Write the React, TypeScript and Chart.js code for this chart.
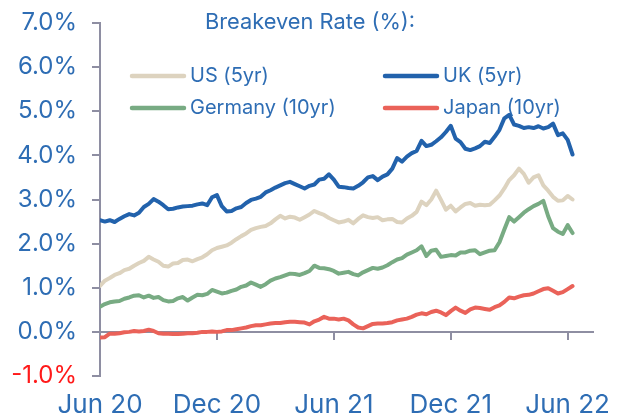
import React, { useEffect, useRef } from 'react';
import { Chart, registerables } from 'chart.js';

Chart.register(...registerables);

// sampling step of the series, in months from Jun 2020
const STEP_MONTHS = 0.25;
const X_MAX_MONTHS = 25.3;

const xTickMonths = [0, 6, 12, 18, 24];
const xTickLabels = ['Jun 20', 'Dec 20', 'Jun 21', 'Dec 21', 'Jun 22'];

const titleText = 'Breakeven Rate (%):';
const seriesNames = ['US (5yr)', 'UK (5yr)', 'Germany (10yr)', 'Japan (10yr)'];

const usValues = [
  1.04, 1.16, 1.22, 1.29, 1.33, 1.40, 1.43, 1.50, 1.56, 1.61,
  1.70, 1.64, 1.59, 1.50, 1.48, 1.55, 1.56, 1.63, 1.64, 1.60,
  1.65, 1.69, 1.76, 1.85, 1.90, 1.93, 1.96, 2.02, 2.10, 2.17,
  2.23, 2.31, 2.35, 2.38, 2.40, 2.46, 2.55, 2.63, 2.57, 2.61,
  2.59, 2.54, 2.60, 2.66, 2.74, 2.69, 2.65, 2.58, 2.53, 2.48,
  2.50, 2.54, 2.46, 2.56, 2.64, 2.60, 2.58, 2.60, 2.53, 2.55,
  2.56, 2.49, 2.48, 2.57, 2.63, 2.72, 2.95, 2.87, 3.00, 3.20,
  2.99, 2.77, 2.86, 2.73, 2.82, 2.90, 2.92, 2.86, 2.88, 2.87,
  2.88, 2.98, 3.09, 3.25, 3.44, 3.55, 3.70, 3.58, 3.38, 3.50,
  3.55, 3.32, 3.20, 3.06, 2.97, 2.98, 3.08, 3.00,
];

const ukValues = [
  2.53, 2.50, 2.53, 2.49, 2.56, 2.62, 2.67, 2.64, 2.70, 2.83,
  2.90, 3.01, 2.95, 2.87, 2.78, 2.79, 2.82, 2.84, 2.85, 2.86,
  2.89, 2.91, 2.87, 3.05, 3.10, 2.85, 2.73, 2.74, 2.80, 2.83,
  2.92, 2.99, 3.02, 3.06, 3.16, 3.21, 3.27, 3.32, 3.37, 3.40,
  3.35, 3.30, 3.25, 3.31, 3.34, 3.45, 3.47, 3.57, 3.45, 3.29,
  3.28, 3.26, 3.25, 3.31, 3.39, 3.50, 3.53, 3.44, 3.52, 3.57,
  3.70, 3.94, 3.86, 3.97, 4.05, 4.10, 4.33, 4.21, 4.24, 4.32,
  4.41, 4.53, 4.67, 4.38, 4.30, 4.15, 4.12, 4.16, 4.21, 4.31,
  4.28, 4.42, 4.58, 4.84, 4.92, 4.70, 4.67, 4.62, 4.64, 4.62,
  4.66, 4.61, 4.64, 4.72, 4.46, 4.50, 4.35, 4.02,
];

const germanyValues = [
  0.57, 0.63, 0.67, 0.69, 0.70, 0.75, 0.78, 0.82, 0.83, 0.78,
  0.82, 0.77, 0.79, 0.72, 0.69, 0.70, 0.76, 0.79, 0.71, 0.78,
  0.84, 0.83, 0.86, 0.95, 0.91, 0.87, 0.89, 0.93, 0.96, 1.02,
  1.05, 1.12, 1.07, 1.02, 1.08, 1.16, 1.21, 1.24, 1.28, 1.32,
  1.31, 1.29, 1.33, 1.38, 1.50, 1.45, 1.44, 1.42, 1.38, 1.32,
  1.34, 1.36, 1.31, 1.28, 1.35, 1.40, 1.45, 1.43, 1.46, 1.51,
  1.58, 1.64, 1.67, 1.75, 1.80, 1.85, 1.94, 1.72, 1.84, 1.86,
  1.70, 1.72, 1.74, 1.73, 1.80, 1.80, 1.84, 1.85, 1.76, 1.80,
  1.84, 1.85, 2.03, 2.32, 2.60, 2.50, 2.60, 2.70, 2.78, 2.85,
  2.90, 2.97, 2.62, 2.35, 2.27, 2.22, 2.42, 2.24,
];

const japanValues = [
  -0.13, -0.12, -0.04, -0.04, -0.03, -0.01, 0.00, 0.02, 0.01, 0.02,
  0.05, 0.02, -0.03, -0.04, -0.04, -0.05, -0.05, -0.04, -0.03, -0.03,
  -0.02, 0.00, 0.00, 0.01, 0.00, 0.01, 0.04, 0.04, 0.06, 0.08,
  0.10, 0.13, 0.15, 0.15, 0.17, 0.19, 0.20, 0.20, 0.22, 0.23,
  0.23, 0.22, 0.21, 0.17, 0.24, 0.28, 0.34, 0.30, 0.30, 0.28,
  0.30, 0.26, 0.17, 0.10, 0.08, 0.13, 0.18, 0.19, 0.19, 0.20,
  0.22, 0.26, 0.28, 0.30, 0.34, 0.39, 0.42, 0.40, 0.45, 0.48,
  0.44, 0.38, 0.47, 0.55, 0.48, 0.43, 0.51, 0.55, 0.54, 0.52,
  0.50, 0.56, 0.60, 0.68, 0.78, 0.76, 0.80, 0.83, 0.84, 0.87,
  0.92, 0.97, 0.99, 0.93, 0.87, 0.90, 0.97, 1.04,
];

const FONT = 'Inter, "Open Sans", sans-serif';
const LABEL_BLUE = '#2E6DB4';
const NEG_RED = '#FF1A1A';
const AXIS_GREY = '#8E8EA2';
const US_COLOR = '#DDD3BF';
const UK_COLOR = '#2262AC';
const DE_COLOR = '#78AB83';
const JP_COLOR = '#EA6259';

export default function App() {
  const ref = useRef<HTMLCanvasElement>(null);

  useEffect(() => {
    if (!ref.current) return;
    const toPts = (arr: number[]) => arr.map((v, i) => ({ x: i * STEP_MONTHS, y: v }));
    const colors = [US_COLOR, UK_COLOR, DE_COLOR, JP_COLOR];

    const legendPlugin = {
      id: 'customLegend',
      beforeDatasetsDraw(chart: any) {
        const ctx = chart.ctx as CanvasRenderingContext2D;
        ctx.save();
        ctx.textBaseline = 'middle';
        ctx.textAlign = 'left';
        ctx.fillStyle = LABEL_BLUE;
        ctx.font = `21.8px ${FONT}`;
        ctx.fillText(titleText, 205, 22);
        const cols = [132, 385];
        const rows = [76, 108];
        seriesNames.forEach((name, i) => {
          const x = cols[i % 2];
          const y = rows[Math.floor(i / 2)];
          ctx.strokeStyle = colors[i];
          ctx.lineWidth = 4.5;
          ctx.lineCap = 'round';
          ctx.beginPath();
          ctx.moveTo(x, y);
          ctx.lineTo(x + 52, y);
          ctx.stroke();
          ctx.fillStyle = LABEL_BLUE;
          ctx.font = `20px ${FONT}`;
          ctx.fillText(name, x + 58, y);
        });
        ctx.restore();
      },
    };

    const tickSetter = (s: any) => {
      s.ticks = xTickMonths.map((v) => ({ value: v }));
    };
    const noSidePadding = (s: any) => {
      s.paddingLeft = 0;
      s.paddingRight = 0;
    };

    const mk = (label: string, data: number[], color: string) => ({
      label,
      data: toPts(data),
      borderColor: color,
      backgroundColor: color,
      borderWidth: 4,
      pointRadius: 0,
      tension: 0,
      fill: false,
      borderJoinStyle: 'round' as const,
      borderCapStyle: 'round' as const,
      xAxisID: 'x',
      yAxisID: 'y',
    });

    const chart = new Chart(ref.current, {
      type: 'line',
      data: {
        datasets: [
          mk(seriesNames[1], ukValues, UK_COLOR),
          mk(seriesNames[3], japanValues, JP_COLOR),
          mk(seriesNames[2], germanyValues, DE_COLOR),
          mk(seriesNames[0], usValues, US_COLOR),
        ],
      },
      options: {
        responsive: false,
        animation: false,
        devicePixelRatio: 1,
        layout: { padding: { top: 23, right: 27, left: 0, bottom: 0 } },
        plugins: { legend: { display: false }, tooltip: { enabled: false }, title: { display: false } },
        scales: {
          y: {
            type: 'linear',
            position: 'left',
            min: -1,
            max: 7,
            afterFit: (s: any) => {
              s.width = 100;
              s.paddingTop = 0;
              s.paddingBottom = 0;
            },
            ticks: {
              stepSize: 1,
              padding: 15,
              callback: (v: any) => Number(v).toFixed(1) + '%',
              font: { family: FONT, size: 24 },
              color: (c: any) => (c.tick && c.tick.value < 0 ? NEG_RED : LABEL_BLUE),
            },
            grid: { drawOnChartArea: false, drawTicks: true, tickLength: 8, color: AXIS_GREY, lineWidth: 2 },
            border: { display: true, color: AXIS_GREY, width: 2 },
          },
          x: {
            type: 'linear',
            min: 0,
            max: X_MAX_MONTHS,
            position: { y: 0 } as any,
            afterBuildTicks: tickSetter,
            afterFit: noSidePadding,
            ticks: { display: false },
            grid: { drawOnChartArea: false, drawTicks: true, tickLength: 7, color: AXIS_GREY, lineWidth: 2 },
            border: { display: true, color: AXIS_GREY, width: 2 },
          },
          x2: {
            type: 'linear',
            axis: 'x',
            position: 'bottom',
            min: 0,
            max: X_MAX_MONTHS,
            afterBuildTicks: tickSetter,
            afterFit: (s: any) => {
              s.height = 43;
              s.paddingLeft = 0;
              s.paddingRight = 0;
            },
            ticks: {
              autoSkip: false,
              maxRotation: 0,
              padding: 14,
              font: { family: FONT, size: 26 },
              color: LABEL_BLUE,
              callback: (v: any) => {
                const idx = xTickMonths.indexOf(Number(v));
                return idx >= 0 ? xTickLabels[idx] : '';
              },
            },
            grid: { display: false, drawTicks: false },
            border: { display: false },
          },
        } as any,
      },
      plugins: [legendPlugin],
    });

    return () => chart.destroy();
  }, []);

  return (
    <div style={{ position: 'fixed', left: 0, top: 0, width: 620, height: 419, background: '#fff' }}>
      <canvas ref={ref} width={620} height={419} style={{ display: 'block' }} />
    </div>
  );
}
